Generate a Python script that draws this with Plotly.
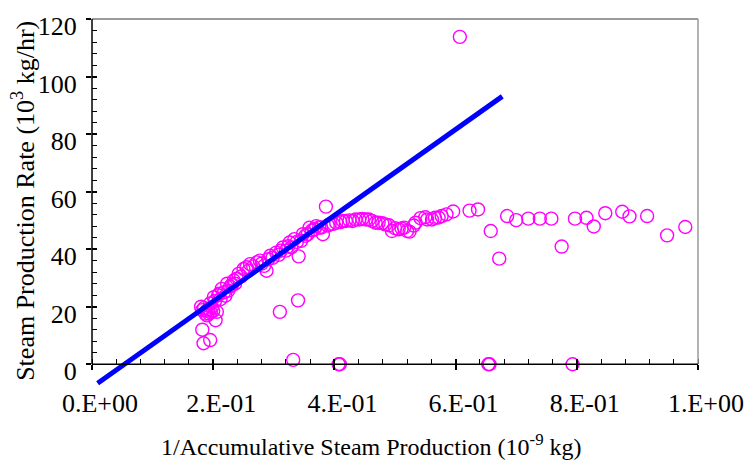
import plotly.graph_objects as go

# Observed steam production rate vs. 1 / accumulative steam production
inv_cum_steam = [
    0.180, 0.182, 0.182, 0.184, 0.185, 0.187, 0.189, 0.190, 0.192, 0.193,
    0.195, 0.195, 0.196, 0.198, 0.200, 0.201, 0.203, 0.204, 0.206, 0.208,
    0.210, 0.212, 0.214, 0.218, 0.220, 0.223, 0.225, 0.228, 0.231, 0.234,
    0.236, 0.239, 0.242, 0.246, 0.250, 0.255, 0.258, 0.261, 0.266, 0.272,
    0.277, 0.280, 0.284, 0.288, 0.291, 0.294, 0.298, 0.304, 0.308, 0.310,
    0.312, 0.315, 0.320, 0.324, 0.326, 0.329, 0.332, 0.334, 0.338, 0.340,
    0.341, 0.345, 0.348, 0.352, 0.356, 0.359, 0.363, 0.367, 0.370, 0.375,
    0.378, 0.381, 0.386, 0.389, 0.392, 0.398, 0.403, 0.407, 0.409, 0.410,
    0.414, 0.419, 0.425, 0.430, 0.435, 0.441, 0.446, 0.452, 0.457, 0.462,
    0.468, 0.473, 0.479, 0.484, 0.490, 0.495, 0.500, 0.506, 0.511, 0.515,
    0.520, 0.524, 0.531, 0.534, 0.542, 0.550, 0.553, 0.561, 0.566, 0.572,
    0.577, 0.585, 0.596, 0.607, 0.623, 0.637, 0.654, 0.656, 0.658, 0.672,
    0.685, 0.700, 0.720, 0.739, 0.758, 0.775, 0.793, 0.797, 0.816, 0.828,
    0.847, 0.875, 0.887, 0.916, 0.949, 0.979,
]
steam_rate = [
    20.0, 18.8, 12.0, 7.3, 19.6, 17.6, 18.6, 17.0, 19.2, 17.6,
    21.1, 8.4, 18.0, 19.8, 18.5, 23.3, 22.0, 15.3, 18.2, 24.0,
    24.5, 22.6, 26.2, 25.0, 23.8, 28.0, 25.6, 27.0, 27.6, 29.1,
    28.0, 29.7, 31.4, 30.5, 33.1, 33.7, 32.5, 34.8, 34.0, 35.4,
    36.0, 35.0, 34.2, 32.5, 36.5, 37.7, 37.0, 38.8, 38.0, 18.2,
    39.5, 40.6, 39.5, 41.0, 42.3, 40.6, 1.5, 43.5, 42.5, 22.2,
    37.5, 42.9, 45.2, 44.6, 45.2, 47.5, 46.5, 46.9, 48.0, 47.6,
    47.5, 45.2, 54.8, 48.2, 48.6, 48.8, 49.2, 0.0, 0.0, 49.4,
    49.8, 49.8, 50.0, 49.8, 50.3, 50.3, 50.5, 50.3, 50.3, 49.8,
    49.2, 49.2, 49.0, 48.6, 48.3, 46.3, 47.3, 46.9, 47.2, 47.5,
    46.3, 46.1, 48.2, 49.2, 50.8, 51.1, 50.3, 50.3, 50.9, 51.0,
    51.5, 52.1, 53.1, 113.8, 53.4, 53.8, 0.0, 0.0, 46.3, 36.7,
    51.5, 50.1, 50.6, 50.6, 50.6, 40.9, 0.0, 50.6, 50.9, 47.9,
    52.5, 53.0, 51.4, 51.5, 44.8, 47.7,
]

# Straight-line fit through the early data
fit_x = [0.0093, 0.677]
fit_y = [-6.6, 93.1]

# Axis ticks
x_tickvals = [0.0, 0.2, 0.4, 0.6, 0.8, 1.0]
x_ticktext = ["0.E+00", "2.E-01", "4.E-01", "6.E-01", "8.E-01", "1.E+00"]
y_tickvals = [0, 20, 40, 60, 80, 100, 120]

FONT = "Liberation Serif, Times New Roman, serif"
W, H = 756, 462
PLOT_LEFT, PLOT_RIGHT = 92, 703
PLOT_TOP = 16
AXIS_Y = 364.5          # pixel row of the x axis
EXTRA = 25              # room below the x axis for the fit line
PLOT_BOTTOM = AXIS_Y + EXTRA
plot_h = PLOT_BOTTOM - PLOT_TOP
plot_w = PLOT_RIGHT - PLOT_LEFT
y_dom0 = EXTRA / plot_h
y_lo2 = -120 * EXTRA / (AXIS_Y - PLOT_TOP)

fig = go.Figure()

# fit line on its own taller (hidden) y axis so it can run below the x axis
fig.add_trace(go.Scatter(
    x=fit_x, y=fit_y, mode="lines",
    line=dict(color="#0000FF", width=5),
    xaxis="x", yaxis="y2", showlegend=False, hoverinfo="skip",
))

fig.add_trace(go.Scatter(
    x=inv_cum_steam, y=steam_rate, mode="markers",
    marker=dict(symbol="circle-open", size=13, color="#FF00FF",
                line=dict(width=1.4, color="#FF00FF")),
    cliponaxis=False, xaxis="x", yaxis="y", showlegend=False,
    hoverinfo="x+y",
))

# invisible trace so the overlay axes (inner halves of major ticks) are drawn
fig.add_trace(go.Scatter(
    x=[0.5], y=[60], mode="markers", marker=dict(opacity=0),
    xaxis="x2", yaxis="y3", showlegend=False, hoverinfo="skip",
))

tick_font = dict(family=FONT, size=26, color="black")


def paper_line(x0, y0, x1, y1, color, width):
    return dict(type="line", xref="paper", yref="paper", layer="above",
                x0=x0, y0=y0, x1=x1, y1=y1,
                line=dict(color=color, width=width))


fig.update_layout(
    width=W, height=H,
    margin=dict(l=PLOT_LEFT, r=W - PLOT_RIGHT, t=PLOT_TOP, b=H - PLOT_BOTTOM,
                pad=0),
    paper_bgcolor="white", plot_bgcolor="rgba(0,0,0,0)",
    font=dict(family=FONT, color="black"),
    xaxis=dict(
        range=[0, 1], domain=[0, 1], anchor="y",
        tickvals=x_tickvals, ticktext=x_ticktext,
        ticks="outside", ticklen=5, tickwidth=1.5, tickcolor="black",
        minor=dict(dtick=0.04, tick0=0, ticks="inside", ticklen=5,
                   tickwidth=1.2, tickcolor="black"),
        showline=False, showgrid=False, zeroline=False,
        tickfont=tick_font, ticklabelstandoff=11, ticklabelshift=8,
    ),
    xaxis2=dict(
        range=[0, 1], overlaying="x", anchor="y3",
        tickvals=x_tickvals, ticks="inside", ticklen=5, tickwidth=1.5,
        tickcolor="black", showticklabels=False, showline=False,
        showgrid=False, zeroline=False,
    ),
    yaxis=dict(
        range=[0, 120], domain=[y_dom0, 1], anchor="x",
        tickvals=y_tickvals,
        ticks="outside", ticklen=5, tickwidth=1.5, tickcolor="black",
        minor=dict(dtick=4, tick0=0, ticks="inside", ticklen=5,
                   tickwidth=1.2, tickcolor="black"),
        showline=False, showgrid=False, zeroline=False,
        tickfont=tick_font, ticklabelstandoff=4, ticklabelshift=7,
    ),
    yaxis2=dict(
        range=[y_lo2, 120], domain=[0, 1], anchor="x",
        visible=False, showgrid=False, zeroline=False,
    ),
    yaxis3=dict(
        range=[0, 120], anchor="x2", overlaying="y",
        tickvals=y_tickvals, ticks="inside", ticklen=5, tickwidth=1.5,
        tickcolor="black", showticklabels=False, showline=False,
        showgrid=False, zeroline=False,
    ),
    shapes=[
        # gray frame on top and right
        paper_line(0, 1, 1, 1, "#9a9a9a", 2),
        paper_line(1, y_dom0, 1, 1, "#9a9a9a", 1.5),
        # black axis lines on left and bottom
        paper_line(0, y_dom0, 0, 1, "black", 1.5),
        paper_line(0, y_dom0, 1, y_dom0, "black", 1.5),
    ],
    annotations=[
        dict(text="1/Accumulative Steam Production (10<sup>-9</sup> kg)",
             xref="paper", yref="paper", x=(373.5 - PLOT_LEFT) / plot_w,
             y=(PLOT_BOTTOM - 446) / plot_h, xanchor="center", yanchor="middle",
             showarrow=False, font=dict(family=FONT, size=24, color="black")),
        dict(text="Steam Production Rate (10<sup>3</sup> kg/hr)",
             xref="paper", yref="paper", x=(23 - PLOT_LEFT) / plot_w,
             y=(PLOT_BOTTOM - 200) / plot_h, xanchor="center", yanchor="middle",
             textangle=-90, showarrow=False,
             font=dict(family=FONT, size=26, color="black")),
    ],
)

fig.write_html("out.html")
